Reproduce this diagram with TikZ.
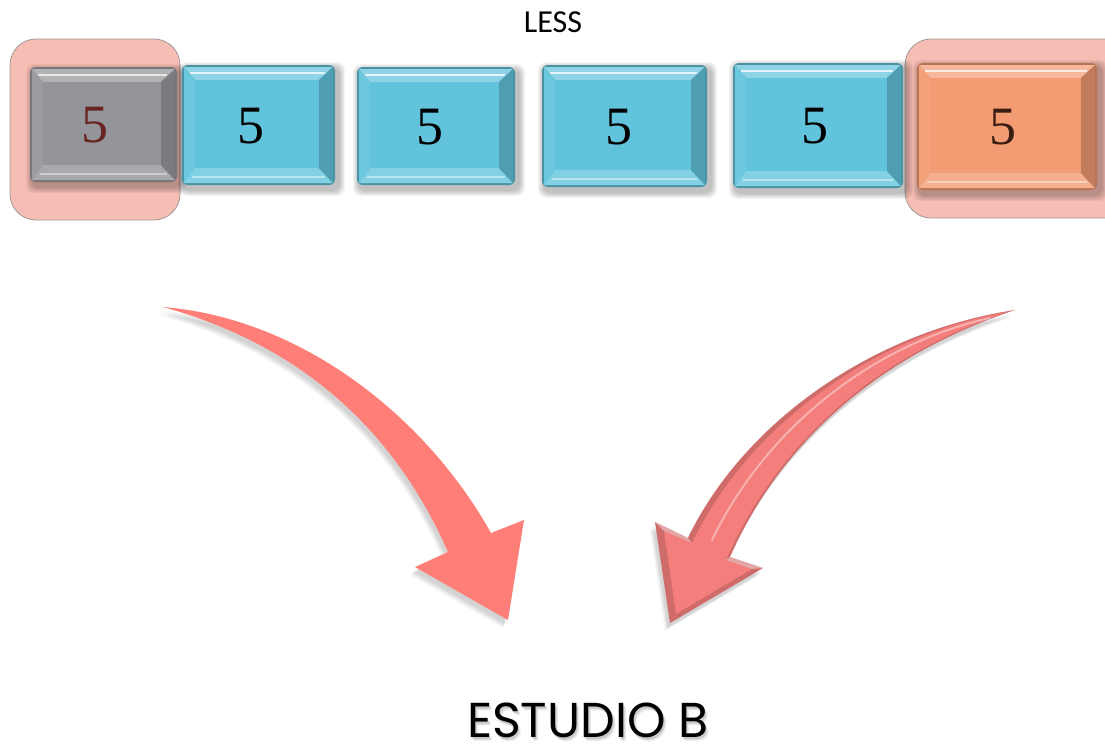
\documentclass[tikz,border=0pt]{standalone}
\usepackage{fontspec}
\setmainfont{Liberation Serif}
\newfontfamily\labelfont{Carlito}
\newfontfamily\titlefont{Poppins}
\usetikzlibrary{calc}

\definecolor{tilegray}{HTML}{8A9198}
\definecolor{tileblue}{HTML}{62C4DC}
\definecolor{tileorange}{HTML}{F39B72}
\definecolor{markfill}{HTML}{F5BDB3}
\definecolor{markedge}{HTML}{A09A98}
\definecolor{arrowflat}{HTML}{FF7F78}
\definecolor{arrowbevel}{HTML}{F37E7B}
\definecolor{digitred}{HTML}{5A1412}
\definecolor{digitbrown}{HTML}{3A1E12}

\tikzset{
  digit/.style={font=\fontsize{54}{54}\selectfont, inner sep=0pt},
  marker/.style={fill=markfill, draw=markedge, line width=0.8pt, rounded corners=26},
  softshadow/.style={fill=black, opacity=0.045},
  title/.style={font=\titlefont\fontsize{49}{49}\selectfont, inner sep=0pt},
}

% bevelled tile: #1 name, #2 left, #3 top, #4 right, #5 bottom, #6 colour, #7 digit colour, #8 digit x-offset
\newcommand\bevtile[8]{%
  \foreach \g in {1,...,6}
    \fill[softshadow, rounded corners=8] (#2+2-\g,#3+3-\g) rectangle (#4+4+\g,#5+5+\g);
  \fill[#6!75!black, rounded corners=6] (#2,#3) rectangle (#4,#5);
  % bevel faces
  \fill[#6!72!white] (#2+2,#3+2) -- (#4-2,#3+2) -- (#4-16,#3+15) -- (#2+13,#3+15) -- cycle;
  \fill[#6!94!white] (#2+2,#3+2) -- (#2+13,#3+15) -- (#2+13,#5-17) -- (#2+2,#5-2) -- cycle;
  \fill[#6!80!white] (#2+2,#5-2) -- (#2+13,#5-17) -- (#4-16,#5-17) -- (#4-2,#5-2) -- cycle;
  \fill[#6!80!black] (#4-2,#3+2) -- (#4-16,#3+15) -- (#4-16,#5-17) -- (#4-2,#5-2) -- cycle;
  \draw[white, opacity=0.75, line width=1.6pt] (#2+8,#3+8) -- (#4-10,#3+8);
  \draw[white, opacity=0.45, line width=1.2pt] (#2+10,#5-8) -- (#4-10,#5-8);
  % face
  \fill[#6] (#2+13,#3+15) rectangle (#4-16,#5-17);
  \node[digit, text=#7] (#1) at ({(#2+#4)/2+#8},{(#3+#5)/2+1}) {5};
}

\begin{document}
\begin{tikzpicture}[x=1pt, y=-1pt]
  \useasboundingbox (0,0) rectangle (1105,745);
  \fill[white] (0,0) rectangle (1105,745);

  % heading
  \node[font=\labelfont\fontsize{32}{32}\selectfont, inner sep=0pt] (less) at (553,22) {LESS};

  % highlighted ends of the row
  \draw[marker] (10,39) rectangle (180,220);
  \draw[marker] (905,39) rectangle (1130,218);

  % row of tiles
  \bevtile{t1}{30}{67}{177}{182}{tilegray}{digitred}{-9}
  \bevtile{t2}{182}{65}{335}{185}{tileblue}{black}{-8}
  \bevtile{t3}{357}{67}{515}{185}{tileblue}{black}{-6}
  \bevtile{t4}{542}{65}{707}{187}{tileblue}{black}{-6}
  \bevtile{t5}{733}{63}{903}{188}{tileblue}{black}{-3}
  \bevtile{t6}{917}{63}{1097}{190}{tileorange}{digitbrown}{-4}
  % faint pink tint over the marked grey tile
  \fill[markfill, opacity=0.1, rounded corners=6] (30,67) rectangle (177,182);

  % target label with soft shadow
  \foreach \g/\o in {1/0.10,2/0.08,3/0.06}
    \node[title, text=black, opacity=\o] at (588+\g,721+\g) {ESTUDIO B};
  \node[title] (target) at (588,720) {ESTUDIO B};

  % left curved arrow (flat)
  \coordinate (la) at (163,307);
  \foreach \g in {1,...,5}
    \fill[black, opacity=0.035, shift={(-1-\g*0.8,3+\g)}]
      (163,307) .. controls (300,318) and (425,415) .. (491,533)
      -- (524,520) -- (508,620) -- (415,567) -- (448,552)
      .. controls (390,420) and (290,342) .. (163,307) -- cycle;
  \fill[arrowflat]
      (la) .. controls (300,318) and (425,415) .. (491,533)
      -- (524,520) -- (508,620) coordinate (lt) -- (415,567) -- (448,552)
      .. controls (390,420) and (290,342) .. (la) -- cycle;

  % right curved arrow (bevelled)
  \coordinate (ra) at (1015,310);
  \foreach \g in {1,...,5}
    \fill[black, opacity=0.035, shift={(-1-\g*0.8,3+\g)}]
      (1015,310) .. controls (870,332) and (742,425) .. (688,538)
      -- (655,522) -- (670,623) -- (763,568) -- (730,557)
      .. controls (778,448) and (872,358) .. (1015,310) -- cycle;
  \fill[arrowbevel!85!black]
      (ra) .. controls (870,332) and (742,425) .. (688,538)
      -- (655,522) -- (670,623) coordinate (rt) -- (763,568) -- (730,557)
      .. controls (778,448) and (872,358) .. (ra) -- cycle;
  \fill[arrowbevel]
      (1007,312) .. controls (868,337) and (746,430) .. (692,543)
      -- (664,531) -- (676,614) -- (752,569) -- (726,560)
      .. controls (774,450) and (868,359) .. (1007,312) -- cycle;
  \draw[white, opacity=0.4, line width=2pt, line cap=round]
      (990,318) .. controls (870,345) and (765,430) .. (712,540);
  \fill[white, opacity=0.4] (655,522) -- (688,538) -- (692,543) -- (664,531) -- cycle;
  \fill[white, opacity=0.4] (763,568) -- (730,557) -- (726,560) -- (752,569) -- cycle;
\end{tikzpicture}
\end{document}
